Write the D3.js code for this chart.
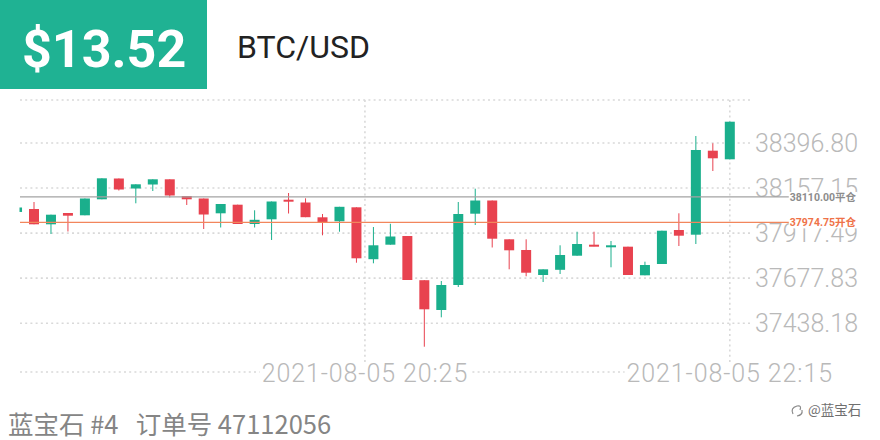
<!DOCTYPE html>
<html><head><meta charset="utf-8">
<script src="https://cdn.jsdelivr.net/npm/d3@7"></script>
<style>body{margin:0;background:#fff}svg{display:block}</style>
</head><body><svg id="c" width="880" height="440"></svg>
<script>
// ---- data ----
const candleIndex = d3.range(-1, 42);
const opens = [38030, 38045.7, 37964.3, 38024.4, 38012.2, 38097.3, 38207.9, 38154.7, 38176.0, 38203.7,
  38114.8, 38101.6, 38022.8, 38068.6, 37965.9, 37990.9, 38095.2, 38080.3, 38001.5, 37980.3,
  38054.7, 37778.6, 37855.8, 37902.0, 37666.9, 37508.4, 37641.4, 38020.7, 38090.9, 37884.5,
  37827.6, 37694.6, 37722.2, 37797.2, 37855.8, 37843.5, 37845.2, 37693.0, 37753.1, 37934.0,
  37909.0, 38355.9, 38310.1];
const closes = [38053.7, 37964.3, 38015.4, 38010.1, 38101.6, 38209.0, 38149.4, 38177.1, 38203.7, 38117.5,
  38097.3, 38016.4, 38072.3, 37965.9, 37988.2, 38085.6, 38085.6, 38002.1, 37972.8, 38057.4,
  37783.4, 37852.6, 37899.4, 37668.0, 37512.1, 37641.4, 38019.1, 38090.9, 37887.7, 37826.0,
  37706.8, 37724.9, 37801.0, 37859.5, 37847.3, 37852.6, 37694.6, 37747.8, 37930.2, 37903.7,
  38359.6, 38315.4, 38510.1];
const highs = [38056, 38082.9, 38015.4, 38024.4, 38101.6, 38209.0, 38207.9, 38177.1, 38203.7, 38203.7,
  38114.8, 38101.6, 38072.3, 38068.6, 38038.8, 38085.6, 38130.8, 38102.6, 38019.1, 38057.4,
  38054.7, 37949.9, 37967.0, 37902.0, 37666.9, 37662.6, 38082.9, 38153.7, 38090.9, 37884.5,
  37884.5, 37724.9, 37852.6, 37924.9, 37924.9, 37875.4, 37845.2, 37765.4, 37930.2, 38022.8,
  38434.0, 38395.2, 38510.1];
const lows = [38028, 37964.3, 37912.7, 37926.0, 38012.2, 38097.3, 38144.1, 38076.0, 38141.4, 38106.9,
  38067.0, 37939.3, 37947.3, 37965.9, 37947.3, 37880.8, 38021.7, 38002.1, 37905.8, 37924.9,
  37760.0, 37756.8, 37855.8, 37668.0, 37313.1, 37469.5, 37630.7, 37960.6, 37840.9, 37724.9,
  37687.7, 37657.3, 37699.9, 37797.2, 37847.3, 37735.6, 37694.6, 37693.0, 37753.1, 37848.8,
  37859.5, 38247.8, 38310.1];
const priceTicks = [38396.80, 38157.15, 37917.49, 37677.83, 37438.18];
const timeTickLabels = ["2021-08-05 20:25", "2021-08-05 22:15"];
const timeTickIndex = [19.5, 41];
const levelValues = [38110.00, 37974.75];
const levelLabels = ["38110.00平仓", "37974.75开仓"];
const headline = "$13.52";
const pair = "BTC/USD";
const footerText = "蓝宝石 #4   订单号 47112056";
const watermark = "@蓝宝石";

// ---- layout ----
const GREEN = "#1aaf8c", RED = "#e8424f", TEAL = "#1fb293";
const L = 20, R = 750, T = 100, B = 372;
const svg = d3.select("#c");
svg.append("rect").attr("width", 880).attr("height", 440).attr("fill", "#fff");

const x = d3.scaleLinear().domain([-1, 41]).range([17.03, 729.8]);
const y = d3.scaleLinear().domain([37438.18, 38396.80]).range([323.2, 143]);

const grid = svg.append("g").attr("stroke", "#d9d9d9").attr("stroke-width", 1.6)
  .attr("stroke-dasharray", "2,3.2");
grid.selectAll("line.h").data(priceTicks).join("line").attr("class", "h")
  .attr("x1", L).attr("x2", R).attr("y1", d => y(d)).attr("y2", d => y(d));
grid.append("line").attr("x1", L).attr("x2", R).attr("y1", T).attr("y2", T);
grid.append("line").attr("x1", L).attr("x2", R).attr("y1", B).attr("y2", B);
grid.selectAll("line.v").data(timeTickIndex).join("line").attr("class", "v")
  .attr("x1", d => x(d)).attr("x2", d => x(d)).attr("y1", T).attr("y2", B);

// right axis labels
svg.append("g").selectAll("text").data(priceTicks).join("text")
  .attr("x", 755).attr("y", d => y(d) + 8.5)
  .attr("font-family", "Roboto, 'Liberation Sans', sans-serif").attr("font-weight", 300)
  .attr("font-size", 25).attr("fill", "#b9b9b9")
  .text(d => d.toFixed(2));

// candles
svg.append("clipPath").attr("id", "clip").append("rect")
  .attr("x", 19.5).attr("y", 0).attr("width", R - 19.5).attr("height", 440);
const cg = svg.append("g").attr("clip-path", "url(#clip)");
const candles = candleIndex.map((k, i) => ({k, o: opens[i], h: highs[i], l: lows[i], c: closes[i]}));
const bw = 10;
cg.selectAll("line.w").data(candles).join("line").attr("class", "w")
  .attr("x1", d => x(d.k)).attr("x2", d => x(d.k))
  .attr("y1", d => y(d.h)).attr("y2", d => y(d.l))
  .attr("stroke", d => d.c >= d.o ? GREEN : RED).attr("stroke-width", 1);
cg.selectAll("rect.b").data(candles).join("rect").attr("class", "b")
  .attr("x", d => x(d.k) - bw / 2).attr("width", bw)
  .attr("y", d => y(Math.max(d.o, d.c)))
  .attr("height", d => Math.max(2, Math.abs(y(d.o) - y(d.c))))
  .attr("fill", d => d.c >= d.o ? GREEN : RED);

// level lines
const levelColors = ["#a3a3a3", "#f2865c"];
const levelText = ["#8c8c8c", "#ef7248"];
const lv = svg.append("g");
levelValues.forEach((v, i) => {
  lv.append("line").attr("x1", L).attr("x2", 792).attr("y1", y(v)).attr("y2", y(v))
    .attr("stroke", levelColors[i]).attr("stroke-width", 1.2);
  const t = lv.append("text").attr("x", 856).attr("y", y(v) + 4).attr("text-anchor", "end")
    .attr("font-family", "Roboto, 'Noto Sans CJK SC', sans-serif").attr("font-weight", 700)
    .attr("font-size", 10.5).attr("fill", levelText[i]).text(levelLabels[i]);
  const bb = t.node().getBBox();
  lv.insert("rect", () => t.node()).attr("x", bb.x - 1).attr("y", bb.y + 1)
    .attr("width", bb.width + 2).attr("height", bb.height - 2).attr("fill", "#fff");
});

// x labels
const xl = svg.append("g");
timeTickIndex.forEach((k, i) => {
  const t = xl.append("text").attr("x", x(k)).attr("y", 382).attr("text-anchor", "middle")
    .attr("font-family", "Roboto, 'Liberation Sans', sans-serif").attr("font-weight", 300)
    .attr("font-size", 25).attr("letter-spacing", 0.9).attr("fill", "#b9b9b9").text(timeTickLabels[i]);
  const bb = t.node().getBBox();
  xl.insert("rect", () => t.node()).attr("x", bb.x - 2).attr("y", bb.y + 4)
    .attr("width", bb.width + 4).attr("height", bb.height - 8).attr("fill", "#fff");
});

// header
svg.append("rect").attr("x", 0).attr("y", 0).attr("width", 207).attr("height", 89).attr("fill", TEAL);
svg.append("text").attr("x", 22).attr("y", 67)
  .attr("font-family", "Roboto, sans-serif").attr("font-weight", 700).attr("font-size", 52)
  .attr("fill", "#fff").text(headline);
svg.append("text").attr("x", 237).attr("y", 58)
  .attr("font-family", "Roboto, sans-serif").attr("font-size", 32)
  .attr("fill", "#222").text(pair);

// footer
svg.append("text").attr("x", 8).attr("y", 434)
  .attr("font-family", "'Noto Sans CJK SC', sans-serif").attr("font-size", 25.5)
  .attr("fill", "#858585").attr("xml:space", "preserve").style("white-space", "pre").text(footerText);
const wm = svg.append("g").attr("fill", "none").attr("stroke", "#8a8a8a").attr("stroke-width", 1.2);
wm.append("path").attr("d", "M793,414 q-3,-6 4,-8 q5,-1 3,4 M797,416 q6,-1 5,-6");
svg.append("text").attr("x", 808).attr("y", 415)
  .attr("font-family", "'Noto Sans CJK SC', sans-serif").attr("font-size", 13.5)
  .attr("fill", "#6f6f6f").text(watermark);
</script></body></html>
